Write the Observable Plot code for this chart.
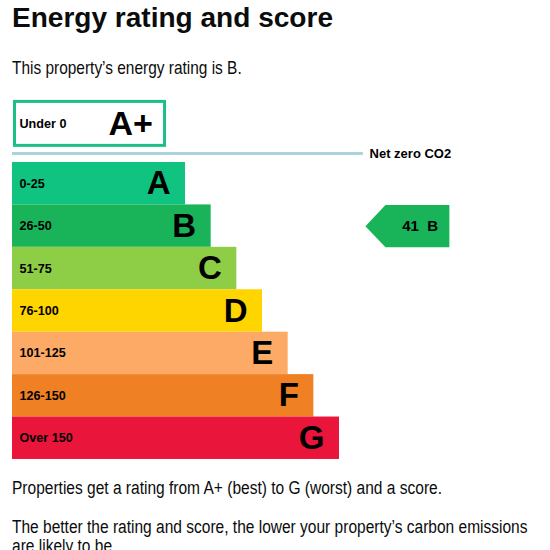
<!DOCTYPE html>
<html>
<head>
<meta charset="utf-8">
<script src="https://cdn.jsdelivr.net/npm/d3@7"></script>
<script src="https://cdn.jsdelivr.net/npm/@observablehq/plot@0.6"></script>
<style>
  html, body { margin: 0; padding: 0; background: #ffffff; width: 550px; height: 550px; overflow: hidden; }
  body { position: relative; font-family: "Liberation Sans", Arial, sans-serif; color: #0b0c0c; }
  .t { position: absolute; left: 12px; white-space: nowrap; transform-origin: 0 50%; display: inline-block; }
  #title { font-size: 28px; line-height: 28px; font-weight: bold; top: 3.8px; }
  #subtitle { font-size: 19px; line-height: 19px; top: 58.4px; }
  .cap { font-size: 18px; line-height: 18px; }
  #cap1 { top: 479.3px; }
  #cap2 { top: 517.8px; }
  #cap3 { top: 536.8px; }
  #chart { position: absolute; left: 0; top: 90px; width: 550px; height: 380px; }
  #chart svg { display: block; }
</style>
</head>
<body>
<div id="title" class="t">Energy rating and score</div>
<div id="subtitle" class="t">This property’s energy rating is B.</div>
<div id="chart"></div>
<div id="cap1" class="t cap">Properties get a rating from A+ (best) to G (worst) and a score.</div>
<div id="cap2" class="t cap">The better the rating and score, the lower your property’s carbon emissions</div>
<div id="cap3" class="t cap">are likely to be.</div>
<script>
// ---- data ----
const ratings = ["A+", "A", "B", "C", "D", "E", "F", "G"];
const scoreRanges = ["Under 0", "0-25", "26-50", "51-75", "76-100", "101-125", "126-150", "Over 150"];
const bandColors = ["#ffffff", "#10c380", "#19b459", "#8dce46", "#ffd500", "#fcaa65", "#ef8023", "#e9153b"];
const currentScore = 41;
const currentRating = "B";
const netZeroLabel = "Net zero CO2";

// ---- layout constants (scale units) ----
const FONT = '"Liberation Sans", Arial, sans-serif';
const xMin = -5.74, xMax = 15.22;          // band-rank units across the chart width
const yTop = -1.197, yBottom = 7.76;       // row units down the chart height
const aPlusCenter = -0.41, aPlusHalf = 0.518;
const netZeroY = 0.288, netZeroEnd = 7.93, netZeroLabelX = 8.17;
const arrowTip = 8.01, arrowShoulder = 8.79, arrowRight = 11.28, arrowTextX = 10.14;

const rows = ratings.map((r, i) => ({ rating: r, range: scoreRanges[i], rank: i, color: bandColors[i] }));
const aPlus = rows.filter(d => d.rank === 0);
const bands = rows.filter(d => d.rank > 0);
const current = rows.find(d => d.rating === currentRating);
const arrowPts = [
  { x: arrowShoulder, y: current.rank - 0.5 },
  { x: arrowRight, y: current.rank - 0.5 },
  { x: arrowRight, y: current.rank + 0.5 },
  { x: arrowShoulder, y: current.rank + 0.5 },
  { x: arrowTip, y: current.rank }
];

const chart = Plot.plot({
  width: 550,
  height: 380,
  marginLeft: 0, marginRight: 0, marginTop: 0, marginBottom: 0,
  x: { domain: [xMin, xMax], range: [12, 550], axis: null },
  y: { domain: [yTop, yBottom], range: [0, 380], axis: null },
  style: { fontFamily: FONT, background: "transparent", color: "#0b0c0c" },
  marks: [
    // A+ outlined box
    Plot.rect(aPlus, {
      x1: () => xMin, x2: "rank",
      y1: () => aPlusCenter - aPlusHalf, y2: () => aPlusCenter + aPlusHalf,
      fill: "#ffffff", stroke: "#1cbf84", strokeWidth: 3,
      insetLeft: 2.5, insetRight: -5.2
    }),
    // rating bands
    Plot.rect(bands, {
      x1: () => xMin, x2: "rank",
      y1: d => d.rank - 0.5, y2: d => d.rank + 0.5,
      fill: d => d.color
    }),
    // net zero rule
    Plot.ruleY([netZeroY], { x1: xMin, x2: netZeroEnd, stroke: "#a9d4db", strokeWidth: 3 }),
    Plot.text([netZeroLabel], {
      x: netZeroLabelX, y: netZeroY, text: d => d,
      textAnchor: "start", fontWeight: "bold", fontSize: 13, fill: "#000"
    }),
    // score range labels
    Plot.text(rows, {
      x: () => xMin, y: d => d.rank === 0 ? aPlusCenter : d.rank, text: "range",
      textAnchor: "start", dx: 7, fontWeight: "bold", fontSize: 12.6, fill: "#000"
    }),
    // big rating letters
    Plot.text(aPlus, {
      x: "rank", y: () => aPlusCenter, text: "rating",
      textAnchor: "end", dx: -7, fontWeight: "bold", fontSize: 34, fill: "#000"
    }),
    Plot.text(bands, {
      x: "rank", y: "rank", text: "rating",
      textAnchor: "end", dx: -15, fontWeight: "bold", fontSize: 33, fill: "#000"
    }),
    // current rating arrow
    Plot.line(arrowPts, {
      x: "x", y: "y", curve: "linear-closed",
      fill: current.color, stroke: "none"
    }),
    Plot.text([current], {
      x: () => arrowTextX, y: "rank",
      text: d => `${currentScore}\u00a0\u00a0${d.rating}`,
      fontWeight: "bold", fontSize: 15, fill: "#000"
    })
  ]
});
document.getElementById("chart").appendChild(chart);

// fit the HTML text lines to the reference widths
const targetWidths = { title: 321, subtitle: 229.7, cap1: 430, cap2: 515.5 };
function fit() {
  for (const id of Object.keys(targetWidths)) {
    const el = document.getElementById(id);
    el.style.transform = "none";
    const w = el.getBoundingClientRect().width;
    if (w > 0) el.style.transform = `scaleX(${targetWidths[id] / w})`;
  }
  const c2 = document.getElementById("cap2"), c3 = document.getElementById("cap3");
  c3.style.transform = c2.style.transform;
}
fit();
if (document.fonts && document.fonts.ready) document.fonts.ready.then(fit);
</script>
</body>
</html>
